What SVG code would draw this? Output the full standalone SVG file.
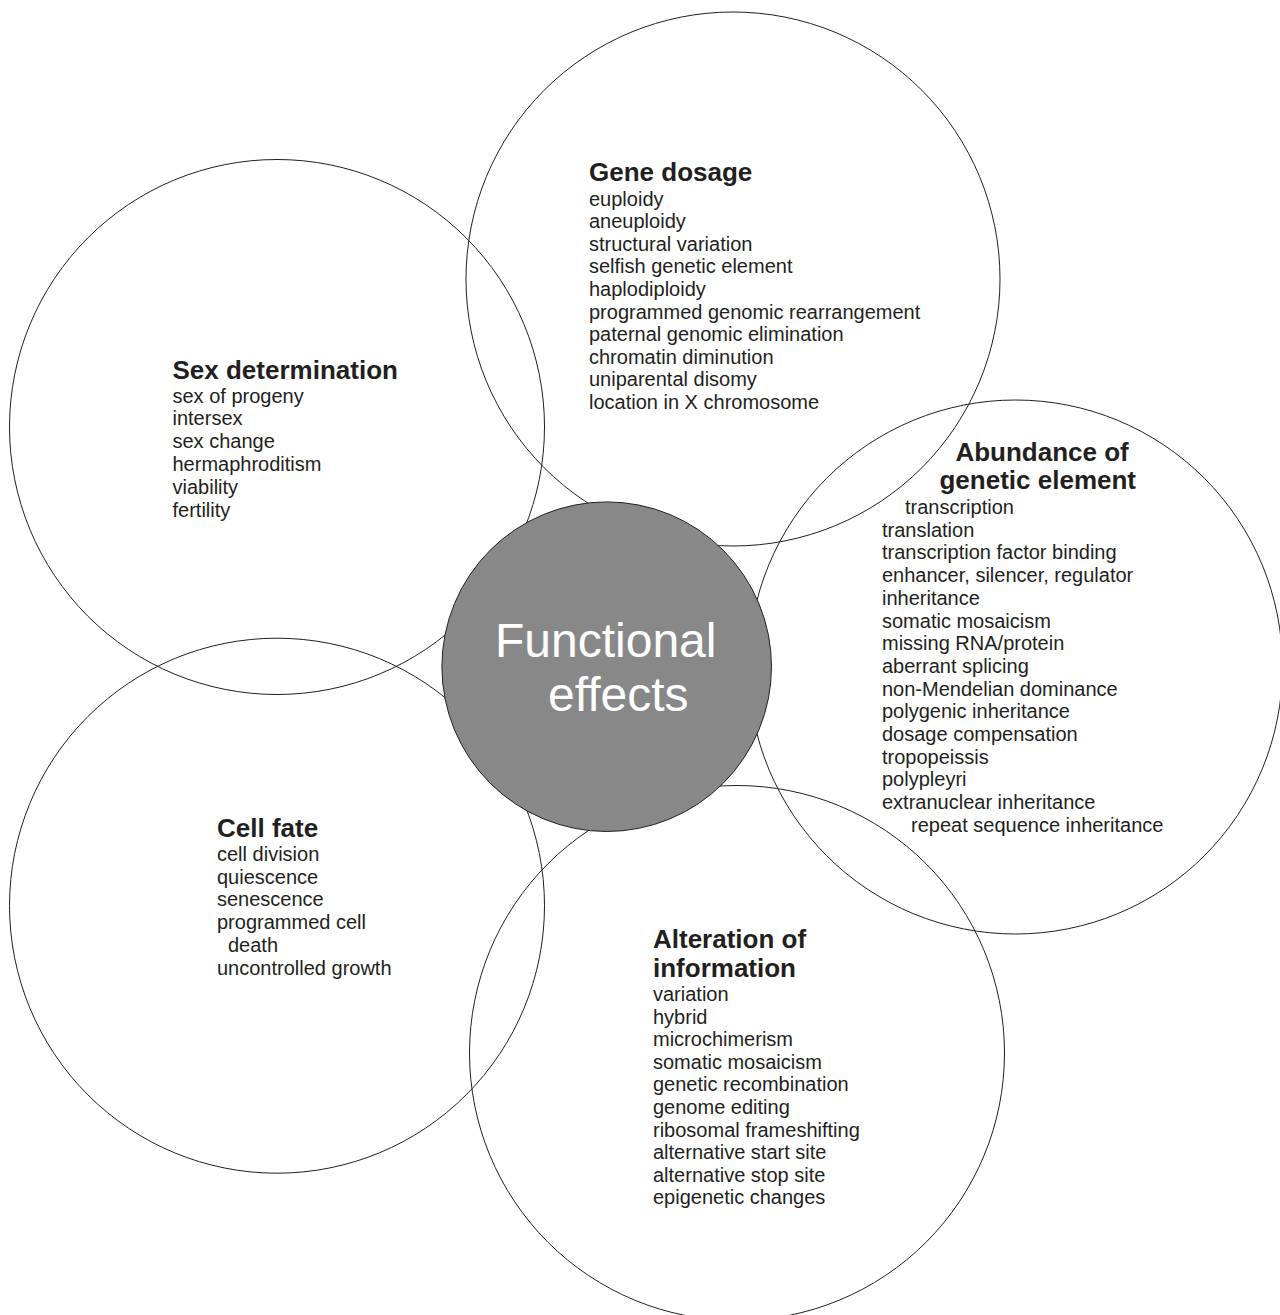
<svg xmlns="http://www.w3.org/2000/svg" width="1280" height="1315" viewBox="0 0 1280 1315">
<style>
.ring{fill:none;stroke:#231f20;stroke-width:1}
.core{fill:#888888;stroke:#231f20;stroke-width:1}
.t{font-family:"Liberation Sans",Arial,sans-serif;fill:#231f20}
.h{font-size:26px;font-weight:bold}
.b{font-size:20px}
.c{font-family:"Liberation Sans",Arial,sans-serif;font-size:48px;fill:#ffffff}
</style>
<rect width="1280" height="1315" fill="#ffffff"/>
<g id="gene-dosage">
<circle class="ring" cx="733" cy="279" r="267"/>
<text class="t h" x="589" y="181">Gene dosage</text>
<text class="t b" x="589">
<tspan x="589" y="205.5">euploidy</tspan>
<tspan x="589" y="228.1">aneuploidy</tspan>
<tspan x="589" y="250.7">structural variation</tspan>
<tspan x="589" y="273.3">selfish genetic element</tspan>
<tspan x="589" y="295.9">haplodiploidy</tspan>
<tspan x="589" y="318.5">programmed genomic rearrangement</tspan>
<tspan x="589" y="341.1">paternal genomic elimination</tspan>
<tspan x="589" y="363.7">chromatin diminution</tspan>
<tspan x="589" y="386.3">uniparental disomy</tspan>
<tspan x="589" y="408.9">location in X chromosome</tspan>
</text>
</g>
<g id="sex-determination">
<circle class="ring" cx="277" cy="427" r="267.5"/>
<text class="t h" x="172.5" y="378.6">Sex determination</text>
<text class="t b">
<tspan x="172.5" y="402.5">sex of progeny</tspan>
<tspan x="172.5" y="425.3">intersex</tspan>
<tspan x="172.5" y="448.2">sex change</tspan>
<tspan x="172.5" y="471">hermaphroditism</tspan>
<tspan x="172.5" y="493.9">viability</tspan>
<tspan x="172.5" y="516.8">fertility</tspan>
</text>
</g>
<g id="abundance">
<circle class="ring" cx="1015.5" cy="667" r="267"/>
<text class="t h" text-anchor="end">
<tspan x="1136" y="460.7">Abundance of</tspan>
<tspan x="1136" y="489.3">genetic element</tspan>
</text>
<text class="t b">
<tspan x="905" y="514">transcription</tspan>
<tspan x="882" y="536.7">translation</tspan>
<tspan x="882" y="559.4">transcription factor binding</tspan>
<tspan x="882" y="582.1">enhancer, silencer, regulator</tspan>
<tspan x="882" y="604.8">inheritance</tspan>
<tspan x="882" y="627.5">somatic mosaicism</tspan>
<tspan x="882" y="650.2">missing RNA/protein</tspan>
<tspan x="882" y="672.9">aberrant splicing</tspan>
<tspan x="882" y="695.6">non-Mendelian dominance</tspan>
<tspan x="882" y="718.3">polygenic inheritance</tspan>
<tspan x="882" y="741">dosage compensation</tspan>
<tspan x="882" y="763.7">tropopeissis</tspan>
<tspan x="882" y="786.4">polypleyri</tspan>
<tspan x="882" y="809.1">extranuclear inheritance</tspan>
<tspan x="911" y="831.8">repeat sequence inheritance</tspan>
</text>
</g>
<g id="cell-fate">
<circle class="ring" cx="277" cy="905.7" r="267.5"/>
<text class="t h" x="217" y="837">Cell fate</text>
<text class="t b">
<tspan x="217" y="861">cell division</tspan>
<tspan x="217" y="883.7">quiescence</tspan>
<tspan x="217" y="906.4">senescence</tspan>
<tspan x="217" y="929.1">programmed cell</tspan>
<tspan x="228" y="951.8">death</tspan>
<tspan x="217" y="974.5">uncontrolled growth</tspan>
</text>
</g>
<g id="alteration">
<circle class="ring" cx="737" cy="1053" r="267.5"/>
<text class="t h">
<tspan x="653" y="948">Alteration of</tspan>
<tspan x="653" y="976.8">information</tspan>
</text>
<text class="t b">
<tspan x="653" y="1001">variation</tspan>
<tspan x="653" y="1023.6">hybrid</tspan>
<tspan x="653" y="1046.2">microchimerism</tspan>
<tspan x="653" y="1068.8">somatic mosaicism</tspan>
<tspan x="653" y="1091.4">genetic recombination</tspan>
<tspan x="653" y="1114">genome editing</tspan>
<tspan x="653" y="1136.6">ribosomal frameshifting</tspan>
<tspan x="653" y="1159.2">alternative start site</tspan>
<tspan x="653" y="1181.8">alternative stop site</tspan>
<tspan x="653" y="1204.4">epigenetic changes</tspan>
</text>
</g>
<g id="functional-effects">
<circle class="core" cx="606.7" cy="666.7" r="164.8"/>
<text class="c">
<tspan x="495" y="657">Functional</tspan>
<tspan x="548" y="711">effects</tspan>
</text>
</g>
</svg>
